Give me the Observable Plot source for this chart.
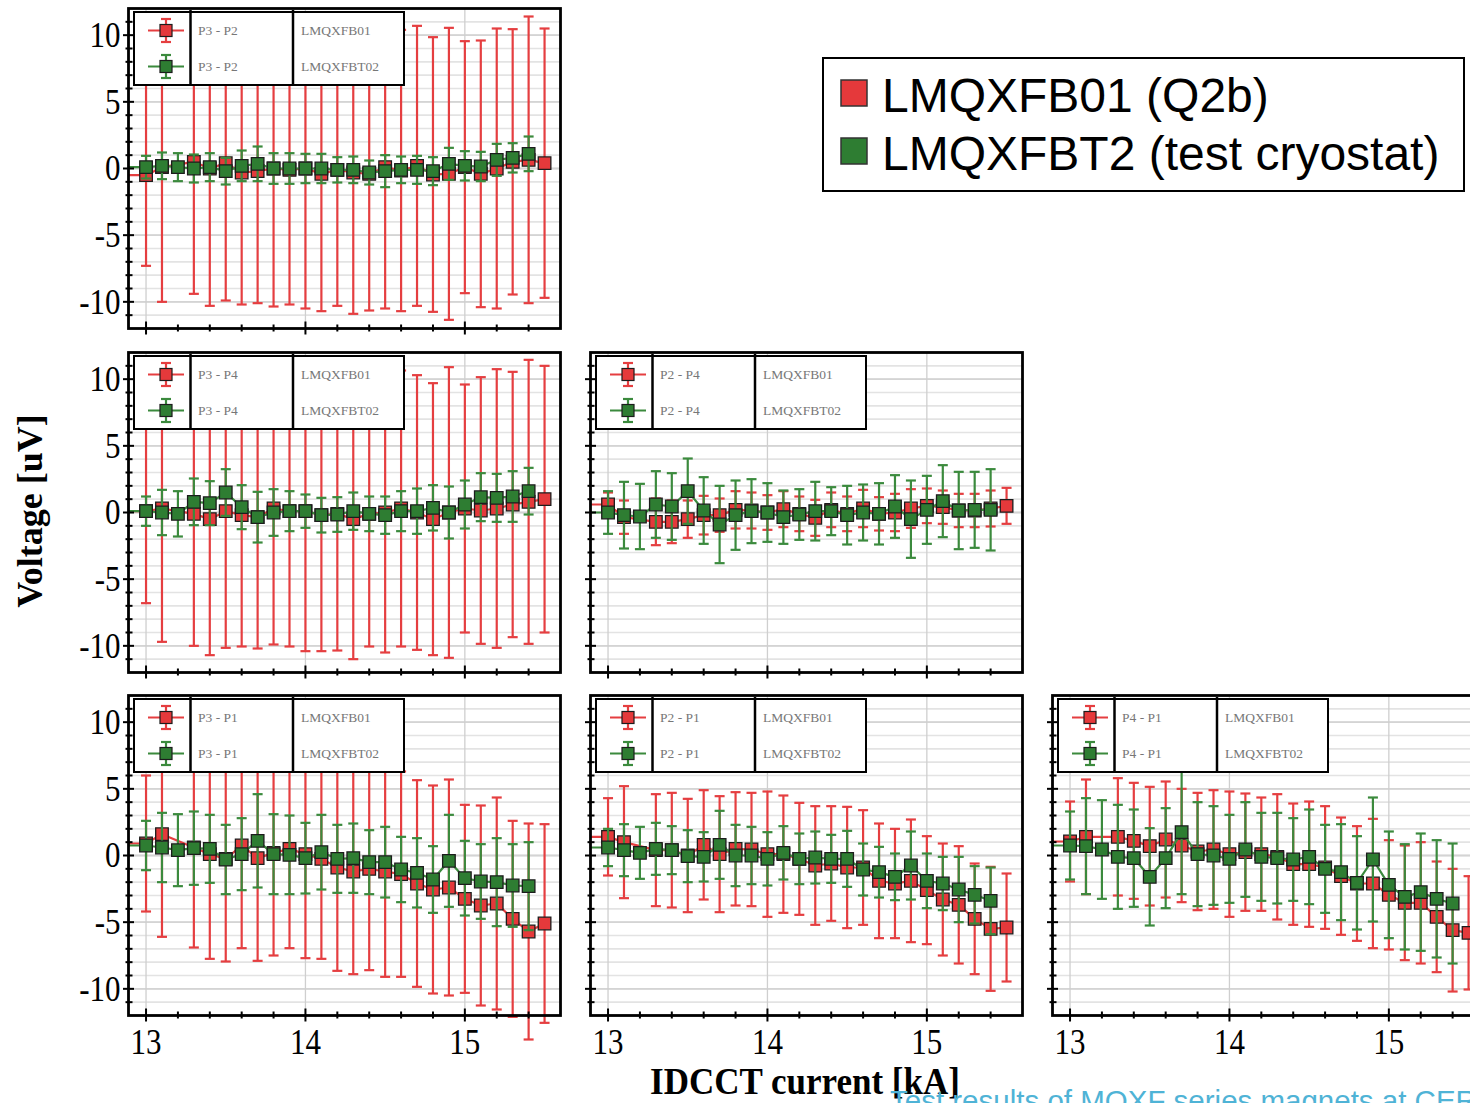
<!DOCTYPE html>
<html><head><meta charset="utf-8">
<script src="https://cdn.jsdelivr.net/npm/d3@7"></script>
<script src="https://cdn.jsdelivr.net/npm/@observablehq/plot@0.6"></script>
<style>
html,body{margin:0;padding:0;background:#fff;overflow:hidden;}
#root{position:relative;width:1470px;height:1103px;overflow:hidden;background:#fff;}
.panel{position:absolute;}
.ilegend{position:absolute;width:272px;height:75px;border:2.5px solid #000;background:#fff;box-sizing:border-box;}
.ilegend svg{position:absolute;left:0;top:0;overflow:visible;}
</style></head><body><div id="root"></div><script>
// ---------------- data ----------------
const currentsRed = [13.0, 13.1, 13.3, 13.4, 13.5, 13.6, 13.7, 13.8, 13.9, 14.0, 14.1, 14.2, 14.3, 14.4, 14.5, 14.6, 14.7, 14.8, 14.9, 15.0, 15.1, 15.2, 15.3, 15.4, 15.5];
const currentsGreen = [13.0, 13.1, 13.2, 13.3, 13.4, 13.5, 13.6, 13.7, 13.8, 13.9, 14.0, 14.1, 14.2, 14.3, 14.4, 14.5, 14.6, 14.7, 14.8, 14.9, 15.0, 15.1, 15.2, 15.3, 15.4];
const leadCurrent = 12.8;

const p3p2RedV   = [-0.5, 0.1, 0.5, 0.0, 0.4, -0.3, -0.2, 0.0, -0.1, 0.0, -0.4, -0.1, -0.3, -0.4, 0.1, -0.15, 0.2, -0.45, -0.4, 0.1, -0.4, 0.0, 0.5, 0.65, 0.4];
const p3p2RedErr = [6.8, 10.1, 9.9, 10.3, 10.3, 9.9, 9.9, 10.35, 10.1, 10.5, 10.3, 10.2, 10.6, 10.25, 10.6, 10.55, 10.5, 10.3, 10.95, 9.45, 10.0, 10.5, 9.95, 10.75, 10.1];
const p3p2GreenV   = [0.1, 0.2, 0.1, 0.0, 0.1, -0.2, 0.2, 0.35, 0.0, 0.0, 0.0, 0.0, -0.1, -0.1, -0.3, -0.2, -0.1, -0.1, -0.2, 0.35, 0.2, 0.15, 0.65, 0.8, 1.1];
const p3p2GreenErr = [0.85, 1.0, 1.05, 1.05, 1.05, 1.0, 1.15, 1.3, 1.15, 1.15, 1.1, 1.1, 0.95, 1.0, 0.9, 1.2, 1.0, 1.05, 1.05, 1.2, 1.1, 1.1, 1.2, 1.1, 1.3];

const p3p4RedV   = [0.1, 0.3, -0.1, -0.5, 0.1, -0.2, -0.35, 0.3, 0.1, 0.1, -0.2, -0.1, -0.5, -0.1, 0.0, 0.3, 0.0, -0.5, 0.0, 0.3, 0.15, 0.3, 0.6, 0.8, 1.0];
const p3p4RedErr = [6.9, 10.0, 9.9, 10.2, 10.25, 9.85, 9.85, 10.2, 10.15, 10.5, 10.2, 10.25, 10.5, 9.95, 10.5, 10.35, 10.3, 10.2, 10.9, 9.3, 10.0, 10.45, 9.95, 10.65, 10.0];
const p3p4GreenV   = [0.1, 0.0, -0.1, 0.8, 0.7, 1.5, 0.4, -0.35, 0.0, 0.1, 0.1, -0.2, -0.15, 0.1, -0.1, -0.2, 0.1, 0.1, 0.35, 0.0, 0.6, 1.15, 1.1, 1.2, 1.6];
const p3p4GreenErr = [1.1, 1.7, 1.7, 1.75, 1.65, 1.75, 1.65, 1.9, 1.75, 1.5, 1.25, 1.3, 1.3, 1.4, 1.3, 1.4, 1.5, 1.7, 1.7, 1.95, 1.8, 1.8, 1.8, 1.9, 1.75];

const p2p4RedV   = [0.6, -0.35, -0.7, -0.7, -0.5, -0.2, -0.2, 0.2, 0.15, 0.0, 0.25, -0.1, -0.4, 0.2, -0.1, 0.3, -0.1, 0.0, 0.3, 0.5, 0.4, 0.15, 0.15, 0.3, 0.5];
const p2p4RedErr = [0.9, 1.25, 1.75, 1.6, 1.4, 1.45, 1.25, 1.4, 1.35, 1.3, 1.35, 1.3, 1.35, 1.3, 1.3, 1.4, 1.25, 1.4, 1.45, 1.3, 1.25, 1.25, 1.25, 1.35, 1.35];
const p2p4GreenV   = [0.0, -0.2, -0.3, 0.6, 0.45, 1.6, 0.15, -0.9, -0.2, 0.1, 0.0, -0.35, -0.15, 0.1, 0.1, -0.2, 0.0, -0.1, 0.45, -0.5, 0.2, 0.85, 0.15, 0.2, 0.2];
const p2p4GreenErr = [1.6, 2.5, 2.45, 2.5, 2.5, 2.45, 2.5, 2.9, 2.6, 2.4, 2.2, 2.0, 1.9, 2.2, 1.8, 2.2, 2.1, 2.3, 2.35, 2.9, 2.55, 2.7, 2.9, 2.85, 3.05];

const p3p1RedV   = [0.9, 1.6, 0.6, 0.1, -0.25, 0.75, -0.2, 0.2, 0.5, 0.1, -0.25, -0.9, -1.2, -1.0, -1.2, -1.4, -2.1, -2.55, -2.4, -3.25, -3.75, -3.6, -4.75, -5.7, -5.1];
const p3p1RedErr = [5.1, 7.7, 7.5, 7.85, 7.7, 7.7, 7.7, 7.7, 7.45, 7.8, 7.5, 7.75, 7.7, 7.6, 7.9, 7.7, 7.75, 7.8, 8.1, 7.05, 7.5, 7.95, 7.35, 8.1, 7.45];
const p3p1GreenV   = [0.75, 0.6, 0.4, 0.55, 0.5, -0.3, 0.1, 1.1, 0.1, 0.05, -0.2, 0.25, -0.25, -0.2, -0.5, -0.5, -1.05, -1.3, -1.8, -0.4, -1.7, -1.95, -2.0, -2.25, -2.3];
const p3p1GreenErr = [1.85, 2.6, 2.7, 2.75, 2.55, 2.6, 2.7, 3.5, 3.0, 2.95, 2.65, 2.8, 2.55, 2.6, 2.4, 2.65, 2.45, 2.6, 2.5, 3.45, 2.8, 2.8, 3.3, 3.1, 3.3];

const p2p1RedV   = [1.4, 1.0, 0.4, 0.4, 0.0, 0.8, 0.1, 0.5, 0.45, 0.1, 0.1, -0.25, -0.75, -0.6, -0.9, -0.9, -1.9, -2.1, -1.9, -2.6, -3.3, -3.7, -4.75, -5.5, -5.4];
const p2p1RedErr = [2.9, 4.2, 4.2, 4.3, 4.25, 4.1, 4.35, 4.25, 4.25, 4.7, 4.4, 4.2, 4.45, 4.3, 4.55, 4.3, 4.3, 4.1, 4.6, 4.05, 4.2, 4.4, 4.15, 4.65, 4.05];
const p2p1GreenV   = [0.6, 0.4, 0.2, 0.5, 0.4, -0.05, -0.1, 0.8, 0.0, 0.0, -0.25, 0.2, -0.25, -0.15, -0.25, -0.25, -1.05, -1.25, -1.6, -0.75, -1.9, -2.1, -2.55, -2.95, -3.4];
const p2p1GreenErr = [1.4, 1.95, 1.95, 1.95, 1.8, 1.95, 1.85, 2.55, 2.3, 2.15, 2.0, 2.0, 1.9, 1.95, 1.8, 2.1, 1.95, 1.9, 1.75, 2.55, 2.05, 2.0, 2.45, 2.15, 2.5];

const p4p1RedV   = [1.05, 1.4, 1.4, 1.1, 0.7, 1.2, 0.75, 0.3, 0.45, 0.1, 0.25, 0.1, -0.1, -0.65, -0.65, -0.9, -1.55, -2.1, -2.1, -2.95, -3.55, -3.55, -4.6, -5.6, -5.8];
const p4p1RedErr = [3.0, 4.3, 4.4, 4.35, 4.45, 4.35, 4.25, 4.4, 4.45, 4.7, 4.4, 4.25, 4.7, 4.55, 4.7, 4.6, 4.4, 4.3, 4.85, 4.1, 4.3, 4.55, 4.15, 4.6, 4.25];
const p4p1GreenV   = [0.75, 0.7, 0.45, -0.1, -0.2, -1.6, -0.2, 1.75, 0.1, 0.0, -0.25, 0.45, -0.1, -0.2, -0.3, -0.1, -1.0, -1.25, -2.05, -0.3, -2.2, -3.1, -2.75, -3.25, -3.6];
const p4p1GreenErr = [2.55, 3.6, 3.7, 3.9, 3.65, 3.65, 3.75, 4.65, 3.9, 3.7, 3.3, 3.55, 3.3, 3.4, 3.1, 3.55, 3.3, 3.6, 3.5, 4.65, 4.0, 3.95, 4.4, 4.4, 4.5];

const panelLabels = ["P3 - P2", "P3 - P4", "P2 - P4", "P3 - P1", "P2 - P1", "P4 - P1"];
const fileNames = ["LMQXFB01", "LMQXFBT02"];
const mainLegend = ["LMQXFB01 (Q2b)", "LMQXFBT2 (test cryostat)"];
const yMajorTicks = [-10, -5, 0, 5, 10];
const yMinorTicks = [-11, -9, -8, -7, -6, -4, -3, -2, -1, 1, 2, 3, 4, 6, 7, 8, 9, 11];
const xMajorTicks = [13, 14, 15];
const xMinorTicks = [13.2, 13.4, 13.6, 13.8, 14.2, 14.4, 14.6, 14.8, 15.2, 15.4];
const yGridAll = [-11, -10, -9, -8, -7, -6, -5, -4, -3, -2, -1, 0, 1, 2, 3, 4, 5, 6, 7, 8, 9, 10, 11];
const xTitle = "IDCCT current [kA]";
const yTitle = "Voltage [uV]";
const footer = "Test results of MQXF series magnets at CERN";

// ---------------- layout & style ----------------
const RED_FILL = "#e5393b", RED_LINE = "#e53e40";
const GREEN_FILL = "#2e7d32", GREEN_LINE = "#3b8a3d";
const MARK_STROKE = "#1c1c1c";
const colLeft = [128, 590, 1052], rowTop = [8, 352, 695];
const FW = 432, FH = 320, ML = 62, MR = 12, MT = 12, MB = 60;

const panels = [
  {label: panelLabels[0], col: 0, row: 0, rv: p3p2RedV, re: p3p2RedErr, gv: p3p2GreenV, ge: p3p2GreenErr},
  {label: panelLabels[1], col: 0, row: 1, rv: p3p4RedV, re: p3p4RedErr, gv: p3p4GreenV, ge: p3p4GreenErr},
  {label: panelLabels[2], col: 1, row: 1, rv: p2p4RedV, re: p2p4RedErr, gv: p2p4GreenV, ge: p2p4GreenErr},
  {label: panelLabels[3], col: 0, row: 2, rv: p3p1RedV, re: p3p1RedErr, gv: p3p1GreenV, ge: p3p1GreenErr},
  {label: panelLabels[4], col: 1, row: 2, rv: p2p1RedV, re: p2p1RedErr, gv: p2p1GreenV, ge: p2p1GreenErr},
  {label: panelLabels[5], col: 2, row: 2, rv: p4p1RedV, re: p4p1RedErr, gv: p4p1GreenV, ge: p4p1GreenErr},
];

const capSymbol = {draw(ctx, size) { const r = Math.sqrt(size / Math.PI); ctx.moveTo(-r, 0); ctx.lineTo(r, 0); }};

function seriesMarks(xs, vs, es, lineColor, fillColor) {
  const data = xs.map((x, i) => ({x, v: vs[i], lo: vs[i] - es[i], hi: vs[i] + es[i]}));
  const lineData = [{x: leadCurrent, v: vs[0]}, ...data];
  return [
    Plot.line(lineData, {x: "x", y: "v", stroke: lineColor, strokeWidth: 2.2, clip: true}),
    Plot.ruleX(data, {x: "x", y1: "lo", y2: "hi", stroke: lineColor, strokeWidth: 2.2}),
    Plot.dot(data, {x: "x", y: "lo", symbol: capSymbol, r: 5, fill: "none", stroke: lineColor, strokeWidth: 2.2}),
    Plot.dot(data, {x: "x", y: "hi", symbol: capSymbol, r: 5, fill: "none", stroke: lineColor, strokeWidth: 2.2}),
    Plot.dot(data, {x: "x", y: "v", symbol: "square", r: 7.1, fill: fillColor, stroke: MARK_STROKE, strokeWidth: 1.3})
  ];
}

const root = document.getElementById("root");

panels.forEach(p => {
  const showY = p.col === 0, showX = p.row === 2;
  const chart = Plot.plot({
    width: ML + FW + MR, height: MT + FH + MB,
    marginLeft: ML, marginRight: MR, marginTop: MT, marginBottom: MB,
    style: {background: "transparent", overflow: "visible", fontFamily: "Liberation Serif", color: "#000"},
    x: {domain: [12.89, 15.6]},
    y: {domain: [-12, 12]},
    marks: [
      Plot.gridY({ticks: yGridAll, stroke: "#e3e3e3", strokeOpacity: 1, strokeWidth: 1.6}),
      Plot.gridY({ticks: yMajorTicks, stroke: "#d4d4d4", strokeOpacity: 1, strokeWidth: 1.8}),
      Plot.gridX({ticks: xMajorTicks, stroke: "#cfcfcf", strokeOpacity: 1, strokeWidth: 1.3}),
      ...seriesMarks(currentsRed, p.rv, p.re, RED_LINE, RED_FILL),
      ...seriesMarks(currentsGreen, p.gv, p.ge, GREEN_LINE, GREEN_FILL),
      Plot.frame({stroke: "#000", strokeWidth: 2.8}),
      Plot.axisY({ticks: yMinorTicks, tickSize: 7, dx: 4.5, tickFormat: () => "", label: null, strokeWidth: 2}),
      Plot.axisY({ticks: yMajorTicks, tickSize: 11, dx: 6, tickPadding: 3, tickFormat: showY ? (d => String(d)) : (() => ""), label: null, fontSize: 31, strokeWidth: 2}),
      Plot.axisX({ticks: xMinorTicks, tickSize: 7, dy: -3.5, tickFormat: () => "", label: null, strokeWidth: 2}),
      Plot.axisX({ticks: xMajorTicks, tickSize: 13, dy: -6.5, tickPadding: 6, tickFormat: showX ? (d => String(d)) : (() => ""), label: null, fontSize: 31, strokeWidth: 2})
    ]
  });
  chart.classList.add("panel");
  chart.style.left = (colLeft[p.col] - ML) + "px";
  chart.style.top = (rowTop[p.row] - MT) + "px";
  chart.style.maxWidth = "none";
  // slight vertical stretch of the tick labels, like the reference typeface
  chart.querySelectorAll('g[aria-label$="tick label"] text').forEach(t => {
    const tr = t.getAttribute("transform") || "";
    t.setAttribute("transform", tr + " scale(1,1.18)");
  });
  root.appendChild(chart);

  // inner legend box
  const lg = document.createElement("div");
  lg.className = "ilegend";
  lg.style.left = (colLeft[p.col] + 5) + "px";
  lg.style.top = (rowTop[p.row] + 3) + "px";
  const sym = (cy, lc, fc) => `
    <line x1="13" y1="${cy}" x2="49" y2="${cy}" stroke="${lc}" stroke-width="2.2"/>
    <line x1="31" y1="${cy - 11.5}" x2="31" y2="${cy + 11.5}" stroke="${lc}" stroke-width="2.2"/>
    <line x1="26" y1="${cy - 11.5}" x2="36" y2="${cy - 11.5}" stroke="${lc}" stroke-width="2.2"/>
    <line x1="26" y1="${cy + 11.5}" x2="36" y2="${cy + 11.5}" stroke="${lc}" stroke-width="2.2"/>
    <rect x="25" y="${cy - 6}" width="12" height="12" fill="${fc}" stroke="${MARK_STROKE}" stroke-width="1.2"/>`;
  const txt = (x, cy, s) => `<text x="${x}" y="${cy}" dy="0.35em" font-family="Liberation Serif" font-size="13.5" fill="#777">${s}</text>`;
  lg.innerHTML = `<svg width="267" height="70">
    <line x1="55.5" y1="-3" x2="55.5" y2="73" stroke="#000" stroke-width="2.5"/>
    <line x1="158" y1="-3" x2="158" y2="73" stroke="#000" stroke-width="2.5"/>
    ${sym(17.5, RED_LINE, RED_FILL)}
    ${sym(53.5, GREEN_LINE, GREEN_FILL)}
    ${txt(63, 17.5, p.label)}${txt(63, 53.5, p.label)}
    ${txt(166, 17.5, fileNames[0])}${txt(166, 53.5, fileNames[1])}
  </svg>`;
  root.appendChild(lg);
});

// axis titles
const yt = document.createElement("div");
yt.textContent = yTitle;
yt.style.cssText = "position:absolute;left:30px;top:511px;transform:translate(-50%,-50%) rotate(-90deg);white-space:nowrap;font:bold 36px 'Liberation Serif';color:#000;";
root.appendChild(yt);

const xt = document.createElement("div");
xt.textContent = xTitle;
xt.style.cssText = "position:absolute;left:805px;top:1082px;transform:translate(-50%,-50%) scale(1,1.08);white-space:nowrap;font:bold 35px 'Liberation Serif';line-height:1.1;color:#000;";
root.appendChild(xt);

// main legend
const ml = document.createElement("div");
ml.style.cssText = "position:absolute;left:822px;top:57px;width:643px;height:135px;border:2px solid #000;box-sizing:border-box;background:#fff;";
ml.innerHTML = `<svg width="639" height="131" style="position:absolute;left:0;top:0">
  <rect x="17" y="21" width="26" height="26" fill="${RED_FILL}" stroke="#333" stroke-width="1.5"/>
  <rect x="17" y="79" width="26" height="26" fill="${GREEN_FILL}" stroke="#333" stroke-width="1.5"/>
  <text x="58" y="36" dy="0.36em" font-family="Liberation Sans" font-size="48" fill="#000">${mainLegend[0]}</text>
  <text x="58" y="94" dy="0.36em" font-family="Liberation Sans" font-size="48" fill="#000">${mainLegend[1]}</text>
</svg>`;
root.appendChild(ml);

// footer
const ft = document.createElement("div");
ft.textContent = footer;
ft.style.cssText = "position:absolute;left:890px;top:1084px;white-space:nowrap;font:29.5px 'Liberation Sans';color:#4fb3d6;";
root.appendChild(ft);
</script></body></html>
